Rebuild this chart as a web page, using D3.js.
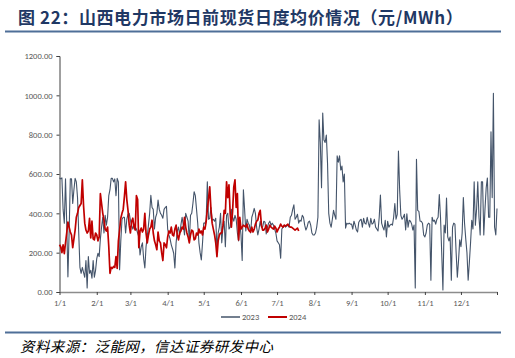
<!DOCTYPE html>
<html><head><meta charset="utf-8">
<script src="https://cdn.jsdelivr.net/npm/d3@7"></script>
<style>
html,body{margin:0;padding:0;background:#fff;}
svg{display:block;}
</style></head>
<body>
<svg id="c" width="515" height="358"></svg>
<script>
const titleText = "图 22：山西电力市场日前现货日度均价情况（元/MWh）";
const sourceText = "资料来源：泛能网，信达证券研发中心";
const seriesNames = ["2023", "2024"];
const yTicks = [0, 200, 400, 600, 800, 1000, 1200];
const monthLabels = ["1/1","2/1","3/1","4/1","5/1","6/1","7/1","8/1","9/1","10/1","11/1","12/1"];

// 2023 daily values, Jan 1 .. Dec 31
const values2023 = [
580,575,580,420,350,575,350,77,300,575,575,450,520,578,560,480,300,125,95,125,100,75,160,20,180,95,110,70,160,75,110,
170,197,180,270,330,380,300,390,340,380,490,520,578,578,560,575,490,578,560,113,260,370,380,380,300,370,395,400,
365,340,320,345,330,320,300,280,188,230,250,170,122,230,280,340,400,492,430,420,320,380,400,467,420,400,390,375,420,430,435,
320,290,270,240,220,197,122,250,310,330,290,340,380,340,290,400,380,360,260,390,400,450,510,490,420,350,250,200,163,250,
350,350,365,560,370,375,430,365,370,360,375,213,300,330,400,250,330,360,230,390,400,320,330,420,380,360,390,370,300,260,350,
290,160,520,420,310,370,350,340,300,380,400,425,400,330,290,320,360,330,330,360,355,295,330,350,360,340,350,340,320,300,
260,250,240,172,320,330,340,330,335,340,330,380,390,420,443,370,380,395,350,365,360,390,380,340,315,330,355,360,340,300,290,
290,300,330,380,875,760,530,910,773,760,798,655,400,350,330,370,415,390,370,692,660,692,620,640,560,600,325,350,345,350,345,
345,320,360,340,315,305,355,365,370,330,375,350,345,380,350,330,375,345,350,370,330,320,310,380,493,350,330,315,365,280,
360,330,340,345,340,380,450,370,395,717,520,390,370,380,395,315,398,330,365,360,345,315,340,20,675,415,410,360,360,350,290,
280,300,340,350,345,60,380,360,365,345,370,380,495,380,200,10,340,300,478,280,260,280,60,330,350,345,200,75,160,265,
230,300,480,350,270,200,60,150,250,365,320,560,340,420,560,380,290,560,560,290,420,530,580,380,380,815,480,1010,330,290,425
];

// 2024 daily values, Jan 1 .. ~Jul 19
const values2024 = [
240,230,200,240,195,250,300,356,330,305,290,225,270,315,380,400,430,440,450,570,440,350,315,300,310,375,275,360,270,265,300,
290,260,280,500,450,400,365,320,310,330,230,95,125,120,130,125,180,120,260,315,375,400,420,485,560,470,415,340,
300,360,375,330,315,490,470,225,310,325,305,320,400,300,250,290,320,330,365,300,260,240,215,305,260,250,200,160,250,240,225,
280,310,300,330,290,285,320,340,290,265,300,310,330,320,380,330,300,280,250,290,315,310,265,270,300,290,320,300,310,290,
330,320,357,420,475,535,420,350,320,290,250,180,260,290,300,300,340,415,400,560,480,545,400,330,410,535,570,430,500,265,380,
320,330,340,335,330,345,320,310,305,330,305,320,345,360,365,400,415,340,315,315,325,340,305,320,340,330,325,320,335,325,
305,320,330,345,335,330,340,335,340,345,335,330,330,325,320,315,320,325,310
];

const svg = d3.select("#c");
const base = new Date(2023, 0, 1);
const dayDate = i => d3.timeDay.offset(base, i);

const x = d3.scaleTime().domain([base, new Date(2023, 11, 31)]).range([59.5, 497]);
const y = d3.scaleLinear().domain([0, 1200]).range([292, 56]);

// title
svg.append("text").attr("x", 18).attr("y", 24)
  .attr("font-family", "'Noto Sans CJK SC', sans-serif").attr("font-weight", "bold")
  .attr("font-size", 17).attr("letter-spacing", 0.6).attr("fill", "#1f3864")
  .text(titleText);
svg.append("line").attr("x1", 5).attr("x2", 501).attr("y1", 31.5).attr("y2", 31.5)
  .attr("stroke", "#4f6f98").attr("stroke-width", 2);
svg.append("line").attr("x1", 5).attr("x2", 501).attr("y1", 332.5).attr("y2", 332.5)
  .attr("stroke", "#4f6f98").attr("stroke-width", 2);
svg.append("text").attr("x", 20).attr("y", 352)
  .attr("font-family", "'Noto Sans CJK SC', sans-serif").attr("font-style", "italic")
  .attr("font-size", 14.5).attr("letter-spacing", 0.4).attr("fill", "#000")
  .text(sourceText);

// y axis
const yAxis = d3.axisLeft(y).tickValues(yTicks).tickFormat(d3.format(".2f")).tickSize(3).tickPadding(4);
const gy = svg.append("g").attr("transform", "translate(59.5,0)").call(yAxis);
gy.select(".domain").attr("stroke", "#404040").attr("stroke-width", 1);
gy.selectAll(".tick line").attr("stroke", "#404040");
gy.selectAll("text").attr("font-family", "Calibri, 'Liberation Sans', Arial, sans-serif")
  .attr("font-size", 8.5).attr("fill", "#595959");

// x axis
const monthStarts = d3.range(12).map(m => new Date(2023, m, 1));
const xAxis = d3.axisBottom(x).tickValues(monthStarts.concat([new Date(2023, 11, 31)]))
  .tickFormat((d, i) => i < 12 ? monthLabels[i] : "").tickSize(3).tickPadding(5).tickSizeOuter(0);
const gx = svg.append("g").attr("transform", "translate(0,292)").call(xAxis);
gx.select(".domain").attr("stroke", "#8c8c8c").attr("stroke-width", 1.5);
gx.selectAll(".tick line").attr("stroke", "#404040");
gx.selectAll("text").attr("font-family", "Calibri, 'Liberation Sans', Arial, sans-serif")
  .attr("font-size", 8.5).attr("fill", "#595959");

// lines
const line = d3.line().x((d, i) => x(dayDate(i))).y(d => y(d));
svg.append("path").datum(values2023).attr("d", line)
  .attr("fill", "none").attr("stroke", "#44546a").attr("stroke-width", 1.1).attr("stroke-linejoin", "round");
svg.append("path").datum(values2024).attr("d", line)
  .attr("fill", "none").attr("stroke", "#c00000").attr("stroke-width", 1.7).attr("stroke-linejoin", "round");

// legend
const colors = ["#44546a", "#c00000"];
const widths = [1.5, 2];
const lg = svg.append("g");
[221, 268].forEach((lx, i) => {
  lg.append("line").attr("x1", lx).attr("x2", lx + 19).attr("y1", 317).attr("y2", 317)
    .attr("stroke", colors[i]).attr("stroke-width", widths[i]);
  lg.append("text").attr("x", lx + 21).attr("y", 320)
    .attr("font-family", "Calibri, 'Liberation Sans', Arial, sans-serif")
    .attr("font-size", 8.5).attr("fill", "#595959").text(seriesNames[i]);
});
</script>
</body></html>
